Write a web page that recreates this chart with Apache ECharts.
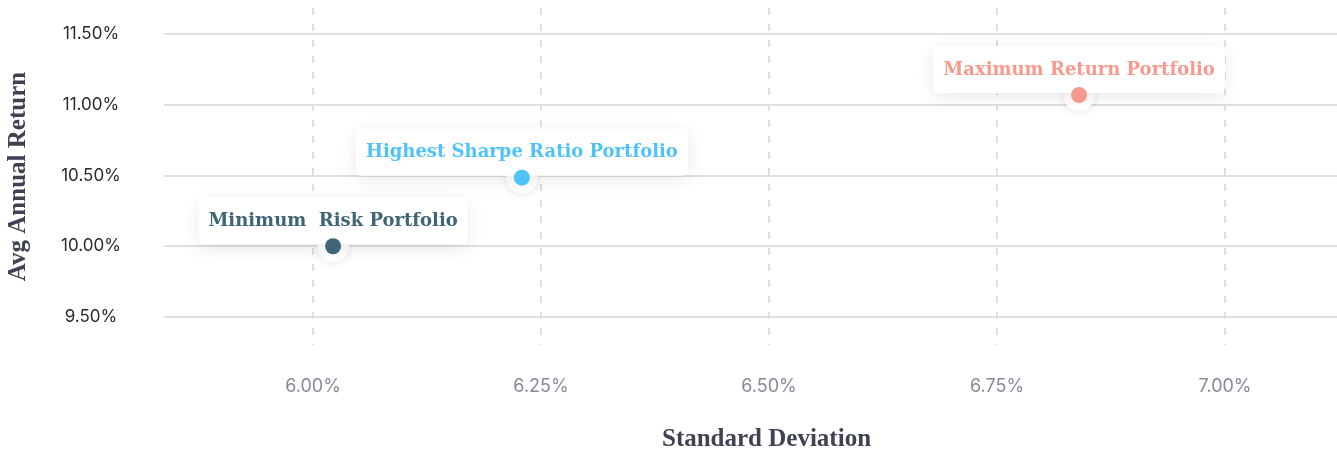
<!DOCTYPE html>
<html>
<head>
<meta charset="utf-8">
<script src="https://cdn.jsdelivr.net/npm/echarts@6/dist/echarts.min.js"></script>
<style>
  html, body { margin: 0; padding: 0; background: #fff; }
  #chart { width: 1337px; height: 452px; }
</style>
</head>
<body>
<div id="chart"></div>
<script>
// portfolio names, std deviation (%), avg annual return (%)
const portfolios = ['Minimum  Risk Portfolio', 'Highest Sharpe Ratio Portfolio', 'Maximum Return Portfolio'];
const stdDev = [6.022, 6.229, 6.840];
const avgReturn = [10.00, 10.485, 11.069];
const colors = ['#3f6576', '#4fc3f7', '#f79a8e'];

const xTicks = [6.00, 6.25, 6.50, 6.75, 7.00];
const yTicks = [9.50, 10.00, 10.50, 11.00, 11.50];

const chart = echarts.init(document.getElementById('chart'));

const series = [];
portfolios.forEach((name, i) => {
    // white halo behind the dot, carries the label box
    series.push({
        name: name,
        type: 'scatter',
        data: [[stdDev[i], avgReturn[i]]],
        symbolSize: 32,
        itemStyle: {
            color: '#fff',
            opacity: 1,
            shadowBlur: 10,
            shadowColor: 'rgba(0,0,0,0.12)'
        },
        label: {
            show: true,
            position: 'top',
            distance: -14,
            formatter: name,
            color: colors[i],
            fontFamily: 'DejaVu Serif',
            fontWeight: 'bold',
            fontSize: 18,
            backgroundColor: '#fff',
            borderRadius: 5,
            padding: [15, 10, 14, 10],
            shadowBlur: 18,
            shadowOffsetY: 4,
            shadowColor: 'rgba(0,0,0,0.09)'
        },
        emphasis: { disabled: true },
        silent: true,
        z: 2 + i
    });
});
portfolios.forEach((name, i) => {
    // coloured dot on top of everything
    series.push({
        type: 'scatter',
        data: [[stdDev[i], avgReturn[i]]],
        symbolSize: 16,
        itemStyle: { color: colors[i], opacity: 1 },
        emphasis: { disabled: true },
        z: 10
    });
});

const option = {
    animation: false,
    grid: { left: 164, right: 0, top: 8, bottom: 107, containLabel: false, outerBoundsMode: 'none' },
    xAxis: {
        type: 'value',
        min: 5.8366,
        max: 7.1228,
        name: 'Standard Deviation',
        nameLocation: 'middle',
        nameGap: 82,
        nameTextStyle: {
            fontFamily: 'Liberation Serif',
            fontWeight: 'bold',
            fontSize: 25,
            color: '#3e4253',
            padding: [0, 0, 0, 32]
        },
        axisLine: { show: false },
        axisTick: { show: false, customValues: xTicks },
        axisLabel: {
            customValues: xTicks,
            margin: 33,
            fontFamily: 'Inter',
            fontSize: 18,
            color: '#8b8999',
            formatter: v => v.toFixed(2) + '%'
        },
        splitLine: {
            show: true,
            lineStyle: { color: '#e0e0e0', width: 2, type: [7, 9] }
        }
    },
    yAxis: {
        type: 'value',
        min: 9.302,
        max: 11.684,
        name: 'Avg Annual Return',
        nameLocation: 'middle',
        nameGap: 133,
        nameTextStyle: {
            fontFamily: 'Liberation Serif',
            fontWeight: 'bold',
            fontSize: 25,
            color: '#3e4253'
        },
        axisLine: { show: false },
        axisTick: { show: false, customValues: yTicks },
        axisLabel: {
            customValues: yTicks,
            margin: 73,
            align: 'center',
            fontFamily: 'Inter',
            fontSize: 17,
            color: '#2a2a2a',
            formatter: v => v.toFixed(2) + '%'
        },
        splitLine: {
            show: true,
            lineStyle: { color: '#e0e0e0', width: 2 }
        }
    },
    series: series
};

chart.setOption(option);
</script>
</body>
</html>
